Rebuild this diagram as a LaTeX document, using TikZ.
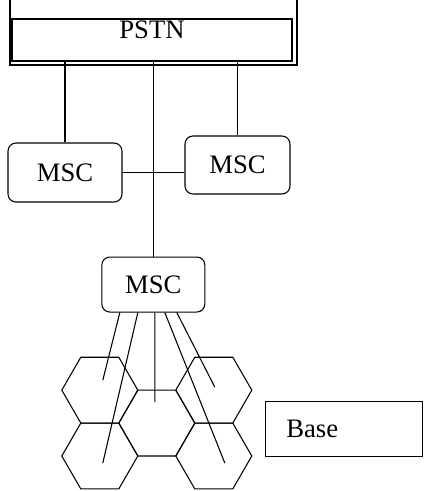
\documentclass[tikz,border=0pt]{standalone}
\usepackage{fontspec}
\setmainfont{Liberation Serif}
\usepackage{tikz}
\usetikzlibrary{shapes.geometric,calc}
\tikzstyle{line} = [draw, line width=0.8pt]
\tikzstyle{pstn_box} = [rectangle, draw, line width=0.8pt, minimum width=210pt, minimum height=31.5pt, inner sep=0pt, text depth=15pt, font=\fontsize{20}{24}\selectfont]
\tikzstyle{msc_box} = [rectangle, draw, rounded corners=6pt, line width=0.8pt, inner sep=0pt, font=\fontsize{20}{24}\selectfont]
\tikzstyle{hex_cell} = [regular polygon, regular polygon sides=6, draw, line width=0.8pt, minimum size=57pt, inner sep=0pt, node distance=42.75pt]
\tikzstyle{base_box} = [rectangle, draw, line width=0.8pt, minimum width=117.75pt, minimum height=41.25pt, inner xsep=15pt, text width=87pt, align=left, font=\fontsize{20}{24}\selectfont]

\begin{document}
\begin{tikzpicture}[x=0.75pt, y=-0.75pt]
			\useasboundingbox (0,0) rectangle (426,491);
			\node [pstn_box] (pstn) at (152,40) {PSTN};
			\draw [line] (10,0) |- (297,65) -- (297,0);
			
			\node [msc_box, below of=pstn, node distance=99.4pt, xshift=-65.25pt, minimum width=85.5pt, minimum height=44.25pt] (msc1) {MSC};
			\node [msc_box, below of=pstn, node distance=93.75pt, xshift=64.1pt, minimum width=78.75pt, minimum height=43.5pt] (msc2) {MSC};
			\node [msc_box, below of=pstn, node distance=183.4pt, xshift=1pt, minimum width=77.25pt, minimum height=41.25pt] (msc3) {MSC};
			
			\path [line] (msc1.north) to (msc1.north |- pstn.south);
			\path [line] (msc2.north) to (msc2.north |- pstn.south);
			\path [line] (msc3.north |- pstn.south) to (msc3.north);
			\path [line] (msc1.east) to (msc1.east -| msc2.west);
			
			\node [hex_cell, below of=msc3, node distance=103.9pt, xshift=2.6pt] (hexC) {};
			\node [hex_cell, left of=hexC, yshift=24.7pt] (hexTL) {};
			\node [hex_cell, left of=hexC, yshift=-24.7pt] (hexBL) {};
			\node [hex_cell, right of=hexC, yshift=24.7pt] (hexTR) {};
			\node [hex_cell, right of=hexC, yshift=-24.7pt] (hexBR) {};
			
			\node [base_box, right of=hexC, node distance=140.6pt, yshift=-4.1pt] (base) {Base};
			
			\coordinate (tipTL) at ($(hexTL.center)+(3,-10)$);
			\coordinate (tipBL) at ($(hexBL.center)+(3,7)$);
			\coordinate (tipC) at ($(hexC.center)+(-2,-21)$);
			\coordinate (tipBR) at ($(hexBR.center)+(11,7)$);
			\coordinate (tipTR) at ($(hexTR.center)+(1,-3)$);
			
			\path [line] ($(msc3.south)+(-33.5,0)$) to (tipTL);
			\path [line] ($(msc3.south)+(-15.5,0)$) to (tipBL);
			\path [line] ($(msc3.south)+(1.5,0)$) to (tipC);
			\path [line] ($(msc3.south)+(11.5,0)$) to (tipBR);
			\path [line] ($(msc3.south)+(23.5,0)$) to (tipTR);
\end{tikzpicture}
\end{document}
